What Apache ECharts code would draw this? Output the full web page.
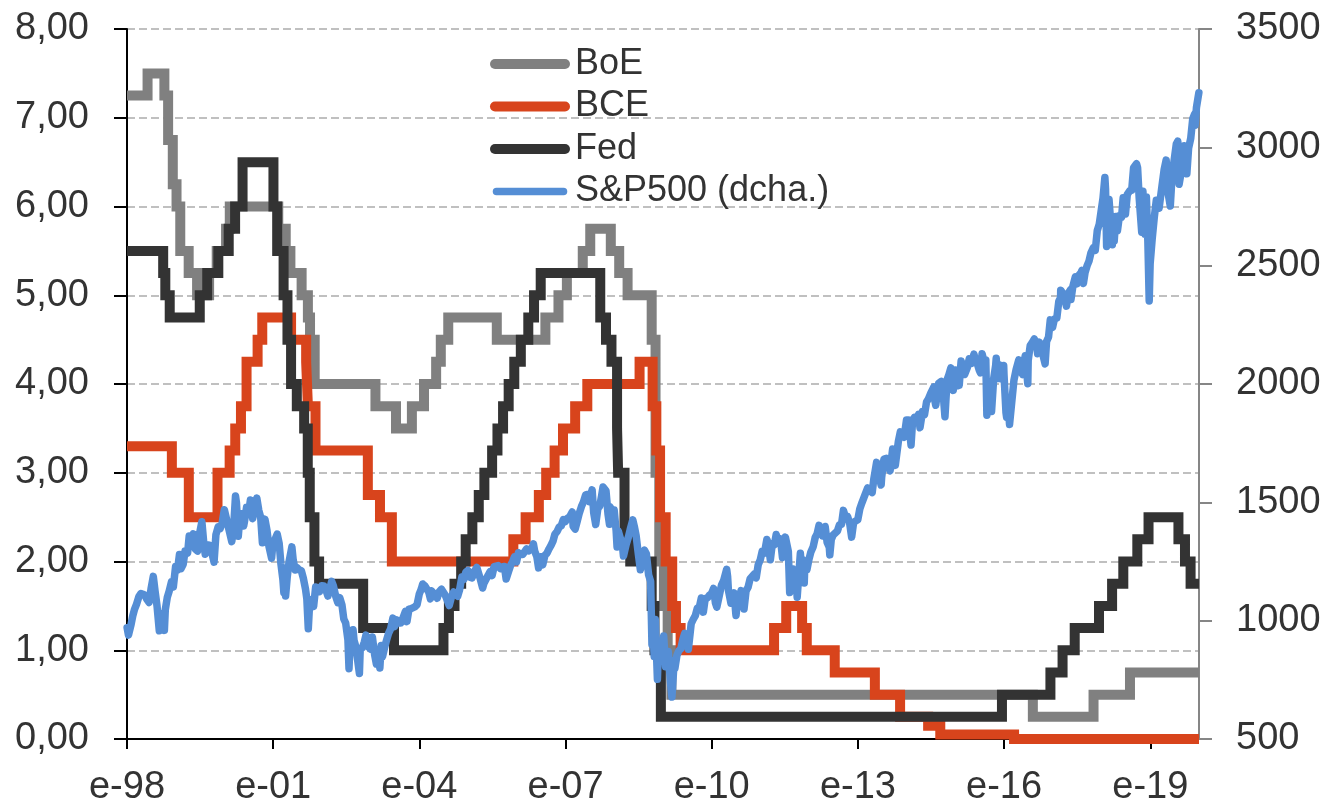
<!DOCTYPE html>
<html><head><meta charset="utf-8">
<script src="https://cdn.jsdelivr.net/npm/echarts@6/dist/echarts.min.js"></script>
<style>html,body{margin:0;padding:0;background:#fff}#c{width:1328px;height:807px}</style>
</head><body><div id="c"></div>
<script>
// ---- axis ticks ----
const xTickYears = [1998, 2001, 2004, 2007, 2010, 2013, 2016, 2019];
const xTickLabels = ['e-98', 'e-01', 'e-04', 'e-07', 'e-10', 'e-13', 'e-16', 'e-19'];
const seriesNames = ['BoE', 'BCE', 'Fed', 'S&P500 (dcha.)'];

// ---- policy rates (change dates / new level) ----
const boeDates = ['1998-01-01','1998-06-04','1998-10-08','1998-11-05','1998-12-10','1999-01-07','1999-02-04','1999-04-08','1999-06-10','1999-09-08','1999-11-04','2000-01-13','2000-02-10','2001-02-08','2001-04-05','2001-05-10','2001-08-02','2001-09-18','2001-10-04','2001-11-08','2003-02-06','2003-07-10','2003-11-06','2004-02-05','2004-05-06','2004-06-10','2004-08-05','2005-08-04','2006-08-03','2006-11-09','2007-01-11','2007-05-10','2007-07-05','2007-12-06','2008-02-07','2008-04-10','2008-10-08','2008-11-06','2008-12-04','2009-01-08','2009-02-05','2009-03-05','2016-08-04','2017-11-02','2018-08-02','2020-01-01'];
const boeRates = [7.25,7.5,7.25,6.75,6.25,6.0,5.5,5.25,5.0,5.25,5.5,5.75,6.0,5.75,5.5,5.25,5.0,4.75,4.5,4.0,3.75,3.5,3.75,4.0,4.25,4.5,4.75,4.5,4.75,5.0,5.25,5.5,5.75,5.5,5.25,5.0,4.5,3.0,2.0,1.5,1.0,0.5,0.25,0.5,0.75,0.75];

const bceDates = ['1998-01-01','1998-12-03','1999-04-09','1999-11-10','2000-02-09','2000-03-22','2000-05-04','2000-06-15','2000-09-06','2000-10-11','2001-05-15','2001-09-05','2001-09-18','2001-11-14','2002-12-11','2003-03-12','2003-06-09','2005-12-06','2006-03-08','2006-06-15','2006-08-09','2006-10-11','2006-12-13','2007-03-14','2007-06-13','2008-07-09','2008-10-15','2008-11-12','2008-12-10','2009-01-21','2009-03-11','2009-04-08','2009-05-13','2011-04-13','2011-07-13','2011-11-09','2011-12-14','2012-07-11','2013-05-08','2013-11-13','2014-06-11','2014-09-10','2016-03-16','2020-01-01'];
const bceRates = [3.3,3.0,2.5,3.0,3.25,3.5,3.75,4.25,4.5,4.75,4.5,4.25,3.75,3.25,2.75,2.5,2.0,2.25,2.5,2.75,3.0,3.25,3.5,3.75,4.0,4.25,3.75,3.25,2.5,2.0,1.5,1.25,1.0,1.25,1.5,1.25,1.0,0.75,0.5,0.25,0.15,0.05,0.0,0.0];

const fedDates = ['1998-01-01','1998-09-29','1998-10-15','1998-11-17','1999-06-30','1999-08-24','1999-11-16','2000-02-02','2000-03-21','2000-05-16','2001-01-03','2001-01-31','2001-03-20','2001-04-18','2001-05-15','2001-06-27','2001-08-21','2001-09-17','2001-10-02','2001-11-06','2001-12-11','2002-11-06','2003-06-25','2004-06-30','2004-08-10','2004-09-21','2004-11-10','2004-12-14','2005-02-02','2005-03-22','2005-05-03','2005-06-30','2005-08-09','2005-09-20','2005-11-01','2005-12-13','2006-01-31','2006-03-28','2006-05-10','2006-06-29','2007-09-18','2007-10-31','2007-12-11','2008-01-22','2008-01-30','2008-03-18','2008-04-30','2008-10-08','2008-10-29','2008-12-16','2015-12-16','2016-12-14','2017-03-15','2017-06-14','2017-12-13','2018-03-21','2018-06-13','2018-09-26','2018-12-19','2019-07-31','2019-09-18','2019-10-30','2020-01-01'];
const fedRates = [5.5,5.25,5.0,4.75,5.0,5.25,5.5,5.75,6.0,6.5,6.0,5.5,5.0,4.5,4.0,3.75,3.5,3.0,2.5,2.0,1.75,1.25,1.0,1.25,1.5,1.75,2.0,2.25,2.5,2.75,3.0,3.25,3.5,3.75,4.0,4.25,4.5,4.75,5.0,5.25,4.75,4.5,4.25,3.5,3.0,2.25,2.0,1.5,1.0,0.25,0.5,0.75,1.0,1.25,1.5,1.75,2.0,2.25,2.5,2.25,2.0,1.75,1.75];

// ---- S&P 500 (right axis) ----
const spDates = [
'1998-01-02','1998-01-12','1998-01-30','1998-02-13','1998-02-27','1998-03-13','1998-03-31','1998-04-15','1998-04-30','1998-05-15','1998-05-29','1998-06-15','1998-06-30','1998-07-17','1998-07-31','1998-08-14','1998-08-31','1998-09-15','1998-09-30','1998-10-08','1998-10-15','1998-10-30','1998-11-13','1998-11-30','1998-12-14','1998-12-31',
'1999-01-14','1999-01-29','1999-02-09','1999-02-26','1999-03-12','1999-03-31','1999-04-12','1999-04-30','1999-05-13','1999-05-28','1999-06-14','1999-06-30','1999-07-16','1999-07-30','1999-08-10','1999-08-31','1999-09-15','1999-09-30','1999-10-15','1999-10-29','1999-11-15','1999-11-30','1999-12-15','1999-12-31',
'2000-01-14','2000-01-31','2000-02-15','2000-02-25','2000-03-10','2000-03-24','2000-03-31','2000-04-14','2000-04-28','2000-05-15','2000-05-24','2000-05-31','2000-06-15','2000-06-30','2000-07-14','2000-07-31','2000-08-15','2000-08-31','2000-09-15','2000-09-29','2000-10-12','2000-10-31','2000-11-15','2000-11-30','2000-12-15','2000-12-20','2000-12-29',
'2001-01-12','2001-01-31','2001-02-15','2001-02-28','2001-03-15','2001-03-22','2001-03-30','2001-04-04','2001-04-16','2001-04-30','2001-05-21','2001-05-31','2001-06-15','2001-06-29','2001-07-13','2001-07-31','2001-08-15','2001-08-31','2001-09-10','2001-09-21','2001-09-28','2001-10-15','2001-10-31','2001-11-15','2001-11-30','2001-12-14','2001-12-31',
'2002-01-15','2002-01-31','2002-02-15','2002-02-28','2002-03-15','2002-03-28','2002-04-15','2002-04-30','2002-05-15','2002-05-31','2002-06-14','2002-06-28','2002-07-15','2002-07-23','2002-07-31','2002-08-15','2002-08-22','2002-08-30','2002-09-13','2002-09-30','2002-10-09','2002-10-15','2002-10-31','2002-11-15','2002-11-27','2002-12-13','2002-12-31',
'2003-01-14','2003-01-31','2003-02-13','2003-02-28','2003-03-11','2003-03-21','2003-03-31','2003-04-15','2003-04-30','2003-05-15','2003-05-30','2003-06-17','2003-06-30','2003-07-14','2003-07-31','2003-08-15','2003-08-29','2003-09-18','2003-09-30','2003-10-15','2003-10-31','2003-11-14','2003-11-28','2003-12-15','2003-12-31',
'2004-01-15','2004-01-26','2004-02-13','2004-02-27','2004-03-12','2004-03-24','2004-03-31','2004-04-15','2004-04-30','2004-05-14','2004-05-28','2004-06-15','2004-06-30','2004-07-15','2004-07-30','2004-08-12','2004-08-31','2004-09-15','2004-09-30','2004-10-15','2004-10-29','2004-11-15','2004-11-30','2004-12-15','2004-12-31',
'2005-01-14','2005-01-31','2005-02-15','2005-02-28','2005-03-07','2005-03-31','2005-04-20','2005-04-29','2005-05-13','2005-05-31','2005-06-15','2005-06-30','2005-07-15','2005-07-29','2005-08-15','2005-08-31','2005-09-15','2005-09-30','2005-10-13','2005-10-31','2005-11-15','2005-11-30','2005-12-15','2005-12-30',
'2006-01-13','2006-01-31','2006-02-15','2006-02-28','2006-03-15','2006-03-31','2006-04-14','2006-04-28','2006-05-05','2006-05-15','2006-05-31','2006-06-13','2006-06-30','2006-07-14','2006-07-31','2006-08-15','2006-08-31','2006-09-15','2006-09-29','2006-10-13','2006-10-31','2006-11-15','2006-11-30','2006-12-15','2006-12-29',
'2007-01-12','2007-01-31','2007-02-20','2007-02-27','2007-03-14','2007-03-30','2007-04-13','2007-04-30','2007-05-15','2007-05-31','2007-06-15','2007-06-29','2007-07-19','2007-07-31','2007-08-15','2007-08-31','2007-09-14','2007-09-28','2007-10-09','2007-10-31','2007-11-15','2007-11-26','2007-11-30','2007-12-14','2007-12-31',
'2008-01-15','2008-01-22','2008-01-31','2008-02-15','2008-02-29','2008-03-10','2008-03-31','2008-04-15','2008-04-30','2008-05-19','2008-05-30','2008-06-13','2008-06-30','2008-07-15','2008-07-31','2008-08-15','2008-08-29','2008-09-15','2008-09-30','2008-10-10','2008-10-13','2008-10-27','2008-10-31','2008-11-04','2008-11-20','2008-11-28','2008-12-15','2008-12-31',
'2009-01-06','2009-01-20','2009-01-30','2009-02-09','2009-02-27','2009-03-09','2009-03-26','2009-03-31','2009-04-15','2009-04-30','2009-05-15','2009-05-29','2009-06-12','2009-06-30','2009-07-10','2009-07-31','2009-08-14','2009-08-31','2009-09-15','2009-09-30','2009-10-15','2009-10-30','2009-11-13','2009-11-30','2009-12-15','2009-12-31',
'2010-01-15','2010-01-29','2010-02-08','2010-02-26','2010-03-15','2010-03-31','2010-04-23','2010-04-30','2010-05-06','2010-05-14','2010-05-25','2010-05-28','2010-06-18','2010-06-30','2010-07-02','2010-07-15','2010-07-30','2010-08-09','2010-08-27','2010-08-31','2010-09-15','2010-09-30','2010-10-15','2010-10-29','2010-11-15','2010-11-30','2010-12-15','2010-12-31',
'2011-01-14','2011-01-31','2011-02-18','2011-02-28','2011-03-16','2011-03-31','2011-04-15','2011-04-29','2011-05-13','2011-05-31','2011-06-15','2011-06-30','2011-07-07','2011-07-29','2011-08-08','2011-08-15','2011-08-31','2011-09-15','2011-09-30','2011-10-03','2011-10-27','2011-10-31','2011-11-15','2011-11-25','2011-11-30','2011-12-15','2011-12-30',
'2012-01-13','2012-01-31','2012-02-15','2012-02-29','2012-03-15','2012-03-30','2012-04-10','2012-04-30','2012-05-15','2012-05-31','2012-06-04','2012-06-15','2012-06-29','2012-07-13','2012-07-31','2012-08-15','2012-08-31','2012-09-14','2012-09-28','2012-10-15','2012-10-31','2012-11-15','2012-11-30','2012-12-14','2012-12-31',
'2013-01-15','2013-01-31','2013-02-15','2013-02-28','2013-03-15','2013-03-28','2013-04-18','2013-04-30','2013-05-21','2013-05-31','2013-06-24','2013-06-28','2013-07-15','2013-07-31','2013-08-15','2013-08-30','2013-09-18','2013-09-30','2013-10-08','2013-10-31','2013-11-15','2013-11-29','2013-12-13','2013-12-31',
'2014-01-15','2014-02-03','2014-02-14','2014-02-28','2014-03-14','2014-03-31','2014-04-11','2014-04-30','2014-05-15','2014-05-30','2014-06-13','2014-06-30','2014-07-24','2014-07-31','2014-08-07','2014-08-29','2014-09-18','2014-09-30','2014-10-15','2014-10-31','2014-11-14','2014-11-28','2014-12-05','2014-12-16','2014-12-31',
'2015-01-15','2015-01-30','2015-02-13','2015-02-27','2015-03-11','2015-03-31','2015-04-15','2015-04-30','2015-05-20','2015-05-29','2015-06-15','2015-06-29','2015-07-08','2015-07-20','2015-07-31','2015-08-17','2015-08-25','2015-08-31','2015-09-16','2015-09-29','2015-10-15','2015-10-30','2015-11-03','2015-11-13','2015-11-30','2015-12-14','2015-12-29','2015-12-31',
'2016-01-15','2016-01-20','2016-01-29','2016-02-11','2016-02-29','2016-03-15','2016-03-31','2016-04-20','2016-04-29','2016-05-19','2016-05-31','2016-06-08','2016-06-27','2016-06-30','2016-07-15','2016-07-29','2016-08-15','2016-08-31','2016-09-09','2016-09-22','2016-09-30','2016-10-14','2016-11-04','2016-11-15','2016-11-30','2016-12-13','2016-12-30',
'2017-01-13','2017-01-31','2017-02-15','2017-02-28','2017-03-01','2017-03-15','2017-03-31','2017-04-13','2017-04-28','2017-05-16','2017-05-17','2017-05-31','2017-06-19','2017-06-30','2017-07-14','2017-07-31','2017-08-07','2017-08-18','2017-08-31','2017-09-15','2017-09-29','2017-10-13','2017-10-31','2017-11-15','2017-11-30','2017-12-15','2017-12-29',
'2018-01-12','2018-01-26','2018-01-31','2018-02-08','2018-02-15','2018-02-26','2018-03-09','2018-03-23','2018-03-29','2018-04-06','2018-04-18','2018-04-30','2018-05-15','2018-05-31','2018-06-12','2018-06-29','2018-07-13','2018-07-31','2018-08-15','2018-08-29','2018-09-20','2018-09-28','2018-10-10','2018-10-29','2018-10-31','2018-11-07','2018-11-23','2018-11-30','2018-12-03','2018-12-14','2018-12-24','2018-12-31',
'2019-01-15','2019-01-31','2019-02-15','2019-02-28','2019-03-08','2019-03-29','2019-04-15','2019-04-30','2019-05-13','2019-05-31','2019-06-03','2019-06-14','2019-06-28','2019-07-15','2019-07-26','2019-07-31','2019-08-05','2019-08-15','2019-08-30','2019-09-13','2019-09-30','2019-10-02','2019-10-15','2019-10-31','2019-11-15','2019-11-29','2019-12-03','2019-12-13','2019-12-31'
];
const spValues = [
970,939,980,1020,1049,1069,1102,1115,1112,1108,1091,1077,1134,1187,1121,1062,957,1029,1017,959,1047,1099,1125,1164,1142,1229,
1213,1280,1219,1238,1294,1286,1358,1335,1367,1302,1294,1373,1418,1329,1281,1320,1318,1283,1247,1363,1397,1389,1413,1469,
1465,1394,1389,1334,1395,1527,1499,1357,1452,1452,1400,1421,1479,1455,1510,1431,1484,1518,1466,1437,1329,1429,1383,1315,1312,1264,1320,
1318,1366,1326,1240,1173,1118,1160,1104,1183,1249,1312,1256,1214,1224,1215,1211,1179,1134,1093,966,1041,1089,1060,1142,1139,1123,1148,
1147,1130,1104,1107,1166,1147,1102,1076,1097,1067,1007,990,918,797,912,930,962,916,889,815,777,881,886,910,939,890,880,
931,856,817,841,800,895,848,885,917,946,964,1011,975,1003,990,990,1008,1039,996,1049,1051,1050,1058,1068,1112,
1133,1155,1146,1145,1120,1092,1126,1128,1107,1095,1121,1133,1141,1106,1102,1064,1104,1121,1115,1103,1130,1184,1174,1205,1212,
1184,1181,1206,1204,1225,1181,1138,1157,1154,1192,1207,1191,1228,1234,1233,1220,1227,1229,1176,1207,1233,1249,1270,1248,
1287,1280,1280,1281,1303,1295,1289,1311,1325,1294,1270,1223,1270,1236,1277,1285,1304,1319,1336,1365,1378,1396,1401,1427,1418,
1431,1438,1459,1399,1387,1421,1452,1482,1501,1531,1533,1503,1553,1455,1406,1474,1484,1527,1565,1549,1451,1407,1481,1467,1468,
1380,1311,1379,1349,1331,1273,1323,1351,1386,1426,1400,1360,1280,1215,1267,1298,1283,1193,1166,899,1003,848,969,1005,752,896,868,903,
935,805,826,870,735,677,832,798,852,873,882,919,946,919,879,987,1004,1021,1053,1057,1096,1036,1093,1096,1108,1115,
1136,1074,1057,1104,1150,1169,1217,1187,1128,1136,1074,1089,1117,1031,1022,1096,1102,1127,1065,1049,1125,1141,1176,1183,1197,1181,1236,1258,
1293,1286,1343,1327,1257,1326,1320,1364,1338,1345,1266,1321,1353,1292,1119,1204,1219,1209,1131,1099,1285,1253,1257,1159,1247,1215,1258,
1289,1312,1351,1366,1403,1408,1358,1398,1330,1310,1278,1343,1362,1357,1379,1405,1407,1466,1441,1441,1412,1353,1416,1413,1426,
1472,1498,1520,1515,1561,1569,1541,1598,1669,1631,1573,1606,1682,1686,1662,1633,1725,1682,1656,1757,1798,1806,1775,1848,
1848,1742,1838,1859,1841,1872,1815,1884,1870,1924,1937,1960,1988,1931,1910,2003,2011,1972,1862,2018,2040,2068,2075,1973,2059,
1992,1995,2097,2105,2040,2068,2106,2086,2126,2107,2085,2058,2047,2128,2104,2102,1868,1972,1996,1884,2023,2079,2109,2023,2080,2021,2078,2044,
1880,1859,1940,1829,1932,2016,2060,2102,2065,2040,2097,2119,2001,2099,2162,2174,2190,2171,2128,2177,2168,2133,2085,2180,2199,2271,2239,
2275,2279,2350,2364,2396,2385,2363,2329,2384,2400,2357,2412,2453,2423,2459,2470,2480,2425,2472,2500,2519,2553,2575,2565,2648,2676,2674,
2786,2873,2824,2581,2732,2780,2786,2588,2641,2604,2708,2648,2711,2705,2787,2718,2801,2816,2819,2914,2931,2914,2786,2641,2712,2814,2633,2760,2790,2600,2351,2507,
2611,2704,2776,2784,2743,2834,2906,2946,2812,2752,2744,2887,2942,3014,3026,2980,2844,2848,2926,3007,2977,2888,2996,3038,3120,3141,3093,3169,3231
];

// ---- helpers ----
function toYear(s) {
  const p = s.split('-').map(Number);
  const a = Date.UTC(p[0], 0, 1), b = Date.UTC(p[0] + 1, 0, 1);
  return p[0] + (Date.UTC(p[0], p[1] - 1, p[2]) - a) / (b - a);
}
function pairs(dates, vals) { return dates.map((d, i) => [toYear(d), vals[i]]); }

const FONT = "'Liberation Sans', Arial, sans-serif";
const TXT = '#333333';
const COLORS = ['#808080', '#D8441C', '#333333', '#558ED5'];
const iconThick = 'path://M5,0 L75,0 A5,5 0 0 1 75,10 L5,10 A5,5 0 0 1 5,0 Z';
const iconThin = 'path://M0,0 M80,10 M6.5,1.25 L73.5,1.25 A3.75,3.75 0 0 1 73.5,8.75 L6.5,8.75 A3.75,3.75 0 0 1 6.5,1.25 Z';

const chart = echarts.init(document.getElementById('c'), null, { renderer: 'canvas' });
const rateLine = (name, dates, vals, color) => ({
  name, type: 'line', yAxisIndex: 0, step: 'end', data: pairs(dates, vals),
  showSymbol: false, symbol: 'none', silent: true,
  lineStyle: { color, width: 10, cap: 'butt', join: 'miter' }, itemStyle: { color }
});

chart.setOption({
  animation: false,
  backgroundColor: '#ffffff',
  textStyle: { fontFamily: FONT },
  grid: { left: 127, top: 29, width: 1072, height: 712, containLabel: false },
  legend: {
    orient: 'vertical', left: 490, top: 46, itemGap: 6.5, padding: 0,
    itemWidth: 80, itemHeight: 10,
    itemStyle: { borderWidth: 0 },
    textStyle: { fontSize: 36, color: TXT, fontFamily: FONT, lineHeight: 36 },
    data: [
      { name: seriesNames[0], icon: iconThick },
      { name: seriesNames[1], icon: iconThick },
      { name: seriesNames[2], icon: iconThick },
      { name: seriesNames[3], icon: iconThin }
    ]
  },
  xAxis: {
    type: 'value', min: 1998, max: 2020, interval: 3,
    axisLine: { show: true, onZero: false, lineStyle: { color: '#000', width: 2 } },
    axisTick: { show: true, length: 10, customValues: xTickYears, lineStyle: { color: '#000', width: 2 } },
    axisLabel: {
      customValues: xTickYears, margin: 30, fontSize: 38, color: TXT, fontFamily: FONT,
      formatter: v => { const i = xTickYears.indexOf(Math.round(v)); return i >= 0 ? xTickLabels[i] : ''; }
    },
    splitLine: { show: false }
  },
  yAxis: [
    {
      type: 'value', min: 0, max: 8, interval: 1, position: 'left',
      axisLine: { show: true, lineStyle: { color: '#000', width: 2 } },
      axisTick: { show: true, length: 13, lineStyle: { color: '#000', width: 2 } },
      axisLabel: { margin: 38, fontSize: 38, color: TXT, fontFamily: FONT,
        formatter: v => v.toFixed(2).replace('.', ',') },
      splitLine: { show: true, lineStyle: { color: '#C0C0C0', width: 2, type: [8, 4] } }
    },
    {
      type: 'value', min: 500, max: 3500, interval: 500, position: 'right', alignTicks: false,
      axisLine: { show: true, lineStyle: { color: '#868686', width: 2 } },
      axisTick: { show: true, length: 13, lineStyle: { color: '#868686', width: 2 } },
      axisLabel: { margin: 37, fontSize: 38, color: TXT, fontFamily: FONT,
        formatter: v => String(Math.round(v)) },
      splitLine: { show: false }
    }
  ],
  series: [
    rateLine(seriesNames[0], boeDates, boeRates, COLORS[0]),
    rateLine(seriesNames[1], bceDates, bceRates, COLORS[1]),
    rateLine(seriesNames[2], fedDates, fedRates, COLORS[2]),
    {
      name: seriesNames[3], type: 'line', yAxisIndex: 1, data: pairs(spDates, spValues),
      showSymbol: false, symbol: 'none', silent: true,
      lineStyle: { color: COLORS[3], width: 7.5, cap: 'round', join: 'round' }, itemStyle: { color: COLORS[3] }
    }
  ]
});
if (spDates.length !== spValues.length) {
  chart.setOption({ title: { text: 'len ' + spDates.length + ' vs ' + spValues.length, left: 700, top: 400 } });
}
</script>
</body></html>
